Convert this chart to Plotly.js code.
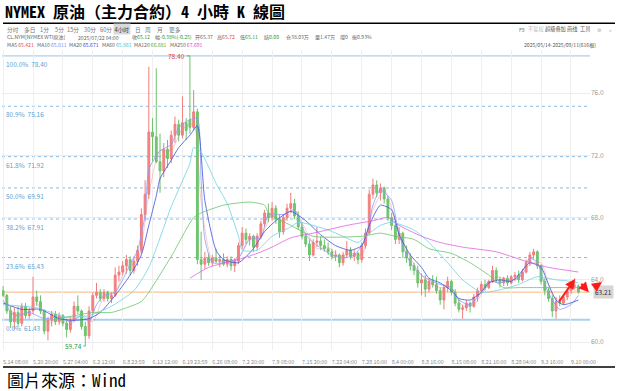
<!DOCTYPE html>
<html><head><meta charset="utf-8">
<script src="https://cdn.plot.ly/plotly-3.0.1.min.js"></script>
<style>html,body{margin:0;padding:0;background:#fff;}#chart{width:618px;height:391px;}</style>
</head><body><div id="chart"></div>
<script>
// ---- candle data (4-hour bars) ----
const openP = [63.3,63.0,62.0,61.3,61.9,61.2,62.3,61.7,62.0,62.9, 62.6,62.0,60.7,61.4,61.8,61.3,61.7,61.2,60.8,61.4, 62.3,62.0,61.0,60.4,62.0,63.0,63.2,62.8,63.2,62.8, 63.0,64.3,64.5,64.9,65.3,64.6,65.2,65.9,68.2,69.5, 73.5,73.2,71.6,71.0,72.4,71.8,73.3,74.0,73.3,74.1, 74.3,73.8,74.8,65.3,65.0,65.4,65.1,65.4,65.2,65.3, 65.0,65.3,64.9,65.2,66.2,67.0,66.6,66.8,66.1,66.8, 67.6,68.3,68.0,68.6,67.9,67.1,68.0,68.6,68.9,68.1, 67.4,66.8,66.3,65.6,66.4,66.5,66.2,66.0,65.8,65.5, 65.6,65.1,65.6,65.9,65.5,65.7,65.3,66.2,67.0,69.5, 70.1,69.6,69.9,69.2,68.0,67.5,66.6,67.0,65.8,65.4, 64.9,64.6,63.8,64.0,63.4,63.9,63.7,63.3,62.7,63.5, 63.9,63.2,62.5,62.1,62.2,62.5,62.3,62.9,63.3,63.7, 63.5,63.9,64.6,64.0,63.8,64.1,63.8,64.2,64.3,64.0, 64.5,65.1,65.6,65.8,64.9,63.9,63.3,62.8,62.0,62.6, 62.5,62.9,63.3,63.6,63.6];
const highP = [63.6,63.1,62.3,62.2,62.3,62.5,62.5,62.2,64.2,63.3, 63.0,62.1,61.6,62.0,62.0,61.9,61.8,61.5,61.6,62.6, 63.0,62.1,61.3,62.3,63.2,63.8,63.4,63.4,63.3,63.2, 64.8,64.9,65.2,65.6,65.5,65.5,66.2,68.6,70.4,77.7, 74.4,77.6,73.4,72.8,73.0,73.6,74.5,74.3,75.8,74.4, 78.4,76.2,75.0,67.1,65.8,65.7,65.6,66.0,65.6,65.7, 65.5,65.5,65.4,66.4,67.4,67.3,67.0,66.9,67.0,67.8, 68.5,68.9,69.0,68.8,68.2,68.2,68.9,69.6,69.2,68.4, 67.7,67.0,66.6,66.6,67.4,66.8,66.6,66.4,66.0,65.9, 65.7,65.8,66.5,66.1,65.9,65.8,66.4,67.3,69.8,70.5, 70.4,70.2,70.0,69.4,68.3,67.8,67.4,67.1,66.2,65.7, 65.1,64.9,64.4,64.3,64.1,64.3,64.2,63.5,63.7,64.2, 64.0,63.4,62.8,62.4,62.7,62.6,63.1,63.5,63.9,64.0, 64.0,64.9,64.8,64.2,64.2,64.3,64.3,64.5,64.6,64.7, 65.3,65.8,66.0,65.9,65.0,64.1,63.5,63.0,62.9,63.0, 63.1,63.5,63.8,64.1,63.7];
const lowP = [62.9,61.8,60.9,60.8,61.0,61.0,61.5,61.5,61.8,62.3, 61.8,60.5,60.1,61.0,61.1,61.1,61.0,60.3,60.6,61.3, 61.8,60.8,59.74,60.2,61.8,62.8,62.6,62.6,62.6,62.5, 62.9,63.9,64.3,64.4,64.3,64.4,64.9,65.7,67.8,69.2, 71.6,71.5,69.6,70.6,71.2,71.5,72.8,72.9,73.1,73.0, 73.4,73.6,65.0,64.0,64.7,64.9,64.9,65.1,64.8,64.9, 64.8,64.6,64.5,65.0,66.0,66.3,66.2,65.8,65.9,66.6, 67.4,67.7,67.8,67.6,66.7,66.9,67.8,68.3,67.9,67.2, 66.6,66.1,65.2,65.5,66.1,65.9,65.8,65.6,65.3,65.2, 64.8,64.9,65.4,65.3,65.2,65.0,65.1,66.0,66.9,69.2, 69.3,69.1,68.9,67.8,67.2,66.3,66.3,65.4,65.1,64.6, 64.3,63.5,63.0,62.9,63.2,63.5,63.1,62.4,62.1,63.2, 63.0,62.3,61.9,61.5,62.0,61.9,62.2,62.6,63.1,63.3, 63.4,63.8,63.8,63.5,63.6,63.6,63.7,63.9,63.8,63.9, 64.4,64.9,65.3,64.7,63.7,63.0,62.6,61.6,61.5,62.3, 62.4,62.7,63.1,63.4,63.1];
const closeP = [63.0,62.0,61.3,61.9,61.2,62.3,61.7,62.0,62.9,62.6, 62.0,60.7,61.4,61.8,61.3,61.7,61.2,60.8,61.4,62.3, 62.0,61.0,60.4,62.0,63.0,63.2,62.8,63.2,62.8,63.0, 64.3,64.5,64.9,65.3,64.6,65.2,65.9,68.2,69.5,73.5, 73.2,71.6,71.0,72.4,71.8,73.3,74.0,73.3,74.1,73.6, 73.8,74.8,65.3,65.0,65.4,65.1,65.4,65.2,65.3,65.0, 65.3,64.9,65.2,66.2,67.0,66.6,66.8,66.1,66.8,67.6, 68.3,68.0,68.6,67.9,67.1,68.0,68.6,68.9,68.1,67.4, 66.8,66.3,65.6,66.4,66.5,66.2,66.0,65.8,65.5,65.6, 65.1,65.6,65.9,65.5,65.7,65.3,66.2,67.0,69.5,70.1, 69.6,69.9,69.2,68.0,67.5,66.6,67.0,65.8,65.4,64.9, 64.6,63.8,64.0,63.4,63.9,63.7,63.3,62.7,63.5,63.9, 63.2,62.5,62.1,62.2,62.5,62.3,62.9,63.3,63.7,63.5, 63.9,64.6,64.0,63.8,64.1,63.8,64.2,64.3,64.0,64.5, 65.1,65.6,65.8,64.9,63.9,63.3,62.8,62.0,62.6,62.5, 62.9,63.3,63.6,63.6,63.21];

// ---- x axis labels (bar index of each labelled time) ----
const tickBars = [0,8,16,24,32,40,48,56,64,72,80,88,96,104,112,120,128,136,144,152];
const tickLabels = ['5.14 08:00','5.20 20:00','5.27 04:00','6.2 12:00','6.8 23:59','6.13 12:00','6.19 23:59','6.26 08:00','7.2 20:00','7.9 08:00','7.15 20:00','7.22 04:00','7.28 16:00','8.4 00:00','8.8 16:00','8.15 08:00','8.21 16:00','8.28 04:00','9.3 16:00','9.10 00:00'];
const yTicks = [60,64,68,72,76];

// ---- moving averages ----
const ma5Bar = [0,3,6,9,12,15,18,21,24,27,30,33,36,39,42,45,48,51,53,56,60,63,66,69,72,75,78,81,84,87,90,93,96,99,102,105,108,111,114,117,120,123,126,129,132,135,138,141,144,147,150,153,154];
const ma5Val = [63.1,61.8,61.8,62.5,61.2,61.5,61.1,61.8,61.3,62.9,63.2,64.8,65.2,69.5,72.3,72.3,73.7,74.0,69.0,65.3,65.2,65.4,66.7,66.8,68.2,67.7,68.5,67.2,66.0,66.1,65.5,65.7,65.6,68.5,69.8,67.8,65.9,64.6,63.8,63.5,63.5,62.3,62.4,63.4,64.2,64.0,64.1,65.0,65.1,63.0,62.6,63.3,63.4];
const ma10Bar = [0,3,7,11,15,18,21,23,25,27,30,32,34,36,38,39,42,45,47,50,52,53,54,56,59,63,66,69,71,75,78,81,83,88,91,94,97,99,101,104,106,109,112,114,117,120,122,125,128,130,133,136,138,141,143,145,147,149,152,154];
const ma10Val = [62.7,61.7,61.9,61.5,61.6,61.3,61.7,61.3,62.4,63.0,63.2,64.0,65.0,65.9,68.2,71.1,72.3,72.7,73.8,74.3,74.4,70.4,66.6,65.1,65.1,65.4,66.6,66.7,68.2,68.2,68.5,66.9,66.4,65.6,65.4,65.6,66.6,68.8,69.8,69.1,66.9,65.1,64.3,64.0,63.7,63.5,62.7,62.4,63.2,63.9,63.8,64.0,64.1,65.4,65.1,63.7,62.7,62.1,62.4,63.0];
const ma20Bar = [0,5,10,15,19,23,26,29,31,34,37,39,41,42,45,47,50,52,54,57,59,63,67,70,73,77,81,85,89,93,96,98,101,104,106,109,112,114,117,120,122,125,128,130,133,136,138,141,144,146,148,150,154];
const ma20Val = [62.5,62.1,62.1,61.5,61.4,61.5,61.9,62.7,63.3,64.3,65.6,67.5,69.4,70.5,71.7,72.5,73.3,73.9,69.1,65.9,65.3,65.1,66.0,67.1,67.8,68.4,67.8,66.9,66.2,65.9,66.2,67.5,68.8,68.5,66.9,65.6,64.8,64.1,63.8,63.3,62.8,62.7,63.2,63.8,64.0,63.9,64.3,65.1,64.8,63.7,62.7,62.4,62.7];
const ma60Bar = [0,9,17,23,29,35,39,45,50,51,53,57,60,63,64,68,72,77,79,87,91,95,97,101,104,110,114,119,123,128,132,138,143,148,152,154];
const ma60Val = [62.4,62.2,61.6,61.7,62.3,63.3,64.8,68.7,71.5,72.5,72.2,70.2,68.9,66.8,65.9,65.9,66.8,67.4,67.7,67.2,66.8,66.4,66.8,67.5,67.7,67.2,66.4,65.1,64.0,63.2,63.3,63.7,64.2,64.0,63.9,63.8];
const ma120Bar = [15,24,29,33,37,39,45,51,53,59,66,70,71,77,83,96,101,105,110,114,120,125,130,134,138,144,148,154];
const ma120Val = [61.5,61.9,61.9,62.2,62.6,63.2,65.5,68.0,68.3,68.8,69.0,68.8,68.3,67.5,66.8,66.8,67.0,66.8,66.6,66.0,65.7,65.1,64.3,63.5,63.5,63.5,63.5,63.5];
const ma250Bar = [50,55,63,68,72,77,83,92,99,103,106,112,117,123,132,141,146,154];
const ma250Val = [64.1,64.8,65.3,65.7,66.1,66.7,67.0,67.5,67.8,68.0,67.5,66.8,66.4,66.1,65.8,65.1,64.8,64.5];

// ---- Fibonacci levels ----
const fibPct = ['100.0%','80.9%','61.8%','50.0%','38.2%','23.6%','0.0%'];
const fibVal = [78.40,75.16,71.92,69.91,67.91,65.43,61.43];

// ---- header / texts ----
const titleText = 'NYMEX 原油（主力合約）4 小時 K 線圖';
const sourceText = '圖片來源：Wind';
const periodTabs = ['分时','多日','1分','5分','15分','30分','60分','4小时','日','周','月','更多'];
const toolTabs = ['F9','不复权','超级叠加','画线','工具','⚙','»'];
const rangeText = '2025/05/14-2025/09/11(616根)';
const maNames = ['MA5','MA10','MA20','MA60','MA120','MA250'];
const maLast = ['65.421','65.811','65.671','65.861','66.681','67.691'];
const hiLabel = 78.40, loLabel = 59.74;

// ---- styling ----
const RED = '#e23c3c', GREEN = '#1f9a2f';
const maColors = ['#ef7b7b','#8d9df3','#3d52e0','#6fd3e3','#6cc46c','#e163e1'];
const W = 618, H = 391, L = 2, R = 28, T = 50, B = 41;
const px = X => (X - L) / (W - L - R);
const py = Y => (H - B - Y) / (H - T - B);
const barIdx = closeP.map((_, i) => i);
const lastClose = closeP[closeP.length - 1];
const cjk = "'Noto Sans CJK SC','Noto Sans',sans-serif";
const titleFont = "'Noto Sans Mono CJK TC','Noto Sans CJK TC','Liberation Mono',monospace";

const traces = [{
  type: 'candlestick', x: barIdx, open: openP, high: highP, low: lowP, close: closeP,
  increasing: {line: {color: '#f27c7c', width: 1}, fillcolor: '#f38585'},
  decreasing: {line: {color: '#6cc26c', width: 1}, fillcolor: '#74c674'},
  whiskerwidth: 0, hoverinfo: 'skip', showlegend: false
}];
const maSets = [[ma5Bar, ma5Val], [ma10Bar, ma10Val], [ma20Bar, ma20Val], [ma60Bar, ma60Val], [ma120Bar, ma120Val], [ma250Bar, ma250Val]];
maSets.forEach((s, k) => traces.push({
  type: 'scatter', mode: 'lines', x: s[0], y: s[1], name: maNames[k],
  line: {color: maColors[k], width: k === 0 ? 0.7 : 0.9, shape: 'spline', smoothing: 0.6},
  opacity: k === 0 ? 0.55 : 0.9, hoverinfo: 'skip', showlegend: false
}));

const shapes = [];
fibVal.forEach((v, k) => {
  const solid = (k === 0 || k === fibVal.length - 1);
  shapes.push({type: 'line', xref: 'paper', x0: 0, x1: 1, yref: 'y', y0: v, y1: v, layer: 'below',
    line: {color: solid ? '#a8d0ee' : '#8dbbe2', width: k === fibVal.length - 1 ? 2 : (solid ? 1.3 : 1), dash: solid ? 'solid' : 'dot'}});
});
shapes.push({type: 'line', xref: 'paper', x0: 0, x1: 1, yref: 'y', y0: lastClose, y1: lastClose, layer: 'below', line: {color: '#fbc497', width: 1.2}});
shapes.push({type: 'line', xref: 'paper', yref: 'paper', x0: px(3), x1: px(615), y0: py(23.3), y1: py(23.3), line: {color: '#000', width: 1.6}});
shapes.push({type: 'line', xref: 'paper', yref: 'paper', x0: px(3), x1: px(615), y0: py(367), y1: py(367), line: {color: '#000', width: 1.6}});

const ann = [];
const note = (X, Y, text, color, size, extra) => ann.push(Object.assign({xref: 'paper', yref: 'paper', x: px(X), y: py(Y), xanchor: 'left', yanchor: 'middle', text, showarrow: false, font: {family: cjk, size: size, color: color}}, extra || {}));

// toolbar row
const tabX = [5,22,38,53,65,82,98,113,133,143,155,167];
periodTabs.forEach((t, k) => note(tabX[k], 29.5, t, k === 7 ? '#333' : '#777', 5.7, k === 7 ? {bgcolor: '#d9d9d9', borderpad: 0.5} : {}));
const toolX = [517,526,543,565,578,595,607];
const toolCol = ['#777','#bbb','#555','#555','#555','#aaa','#aaa'];
toolTabs.forEach((t, k) => note(toolX[k], 29.5, t, toolCol[k], 5.2));

// info row
const G = s => '<span style="color:' + GREEN + '">' + s + '</span>';
const Rr = s => '<span style="color:' + RED + '">' + s + '</span>';
const infoX = [5,76,130,153,193,215,238,262,284,313,338,350];
const infoT = ['CL.NYM[NYMEX WTI原油]','2025/07/22 04:00','收' + G('65.12'),'幅' + G('-0.38%(-0.25)'),'开65.37','高' + Rr('65.72'),'低' + G('65.11'),'结' + G('0.00'),'仓38.03万','量1.47万','增0','振0.93%'];
infoT.forEach((t, k) => note(infoX[k], 37.5, t, '#666', 5.1));

// MA legend row
const maX = [5,35,67,100,132,168];
const maValCol = ['#e04a4a','#6f8ff7','#2b45e0','#3cc3d6','#3fae3f','#d83ad8'];
maNames.forEach((n, k) => note(maX[k], 44.5, n + ' <span style="color:' + maValCol[k] + '">' + maLast[k] + '</span>', '#666', 5.1));
note(522, 44.5, rangeText, '#555', 5.1);

// Fibonacci labels
fibVal.forEach((v, k) => ann.push({xref: 'paper', yref: 'y', x: px(4), y: v, xanchor: 'left', yanchor: 'top', yshift: -1,
  text: fibPct[k] + '  ' + v.toFixed(2), showarrow: false, font: {family: cjk, size: 6.5, color: '#5d9fd3'}}));

// high / low labels
const hiBar = highP.indexOf(hiLabel), loBar = lowP.indexOf(loLabel);
ann.push({x: hiBar, y: hiLabel, xref: 'x', yref: 'y', text: hiLabel.toFixed(2), showarrow: true, arrowhead: 0, arrowwidth: 1, arrowcolor: '#5cb85c', ax: -13, ay: 0, font: {family: cjk, size: 6.5, color: RED}});
ann.push({x: loBar, y: loLabel, xref: 'x', yref: 'y', text: loLabel.toFixed(2), showarrow: true, arrowhead: 0, arrowwidth: 1, arrowcolor: '#5cb85c', ax: -12, ay: 0, font: {family: cjk, size: 6.5, color: GREEN}});

// latest price tag
ann.push({xref: 'paper', yref: 'y', x: px(593), y: lastClose, xanchor: 'left', yanchor: 'middle', text: lastClose.toFixed(2), showarrow: false, bgcolor: '#d6d6d6', borderpad: 1, font: {family: cjk, size: 6.5, color: '#333'}});

// hand-drawn red arrows
const arrowStyle = {text: '', showarrow: true, arrowhead: 2, arrowsize: 1, arrowwidth: 2, arrowcolor: '#ff1a1a'};
ann.push(Object.assign({xref: 'x', yref: 'y', x: 153.1, y: 64.05, ax: -17, ay: 24}, arrowStyle));
ann.push(Object.assign({xref: 'x', yref: 'y', x: 156.8, y: 63.2, ax: -9, ay: -10}, arrowStyle));
ann.push(Object.assign({xref: 'paper', yref: 'y', x: px(602), y: 63.86, ax: -7, ay: 5}, arrowStyle));

// source
ann.push({xref: 'paper', yref: 'paper', x: px(5), y: py(379.5), xanchor: 'left', yanchor: 'middle', text: sourceText, showarrow: false, font: {family: titleFont, size: 17, color: '#000'}});

const layout = {
  width: W, height: H, margin: {l: L, r: R, t: T, b: B},
  paper_bgcolor: '#fff', plot_bgcolor: '#fff',
  title: {text: '<b>' + titleText + '</b>', xref: 'container', yref: 'container', x: 5 / W, xanchor: 'left', y: 1 - 12.5 / H, yanchor: 'middle', font: {family: titleFont, size: 16, color: '#000'}},
  xaxis: {type: 'linear', range: [-0.3, 157.1], tickvals: tickBars, ticktext: tickLabels, ticklabelposition: 'outside right', tickangle: 0,
    ticks: '', ticklabelstandoff: 8, showgrid: true, gridcolor: '#efefef', gridwidth: 1, automargin: false,
    zeroline: false, showline: false, rangeslider: {visible: false}, tickfont: {family: cjk, size: 5.4, color: '#8a8a8a'}, fixedrange: true},
  yaxis: {side: 'right', range: [59.486, 78.779], tickvals: yTicks, tickformat: '.1f', showgrid: true, gridcolor: '#ececec', automargin: false,
    zeroline: false, showline: false, ticks: '', tickfont: {family: cjk, size: 6.5, color: '#9a9a9a'}, fixedrange: true},
  shapes: shapes, annotations: ann, showlegend: false
};
Plotly.newPlot('chart', traces, layout, {displayModeBar: false, staticPlot: true});
</script></body></html>
